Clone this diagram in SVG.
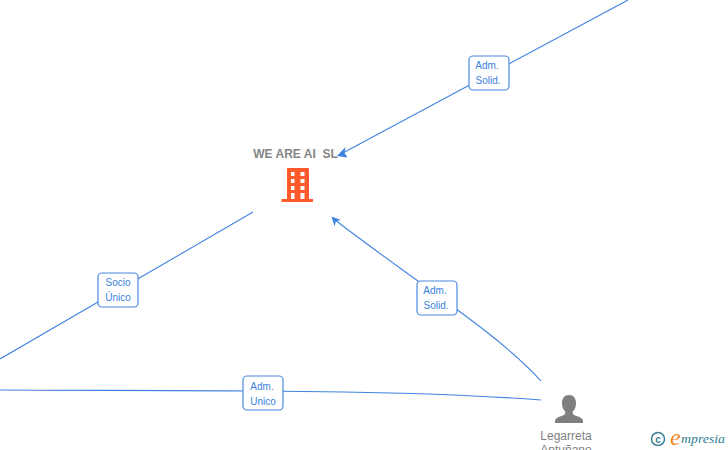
<svg xmlns="http://www.w3.org/2000/svg" width="728" height="450" viewBox="0 0 728 450">
<style>
text{font-family:"Liberation Sans",Arial,sans-serif}
.c{fill:none;stroke:#3f82e0;stroke-width:1.1}
.h{fill:#3f82e0}
.b{fill:#fff;stroke:#4a8ae2;stroke-width:1.2}
.l{font-size:10px;fill:#3a7fdc;text-anchor:middle}
.n{font-size:12px;fill:#7f7f7f;text-anchor:middle}
.s{font-family:"Liberation Serif",serif;font-style:italic}
</style>
<g id="connectors">
<path class="c" d="M628 0 340 154.500"/>
<path class="h" d="M337 156l8.500-9-1 6 3 4.500z"/>
<path class="c" d="M253 212 0 359"/>
<path class="c" d="M541 381C500 335 420 285 335 220"/>
<path class="h" d="M331.500 216.500l9.500 3.500-5 1.200-1.500 5z"/>
<path class="c" d="M541 400C400 389 200 391 0 390"/>
</g>
<g id="label-adm-solid-1"><rect class="b" x="469" y="56" width="40" height="34" rx="4"/><text class="l" x="487" y="69">Adm.</text><text class="l" x="488" y="84">Solid.</text></g>
<g id="label-adm-solid-2"><rect class="b" x="417" y="281" width="40" height="34" rx="4"/><text class="l" x="435" y="294">Adm.</text><text class="l" x="436" y="309">Solid.</text></g>
<g id="label-socio-unico"><rect class="b" x="98" y="273" width="40" height="34" rx="4"/><text class="l" x="118" y="286">Socio</text><text class="l" x="118" y="301">Único</text></g>
<g id="label-adm-unico"><rect class="b" x="243" y="376" width="40" height="34" rx="4"/><text class="l" x="262" y="390">Adm.</text><text class="l" x="263" y="405">Unico</text></g>
<g id="node-we-are-ai">
<text x="295.500" y="158" font-size="12" font-weight="bold" fill="#858585" text-anchor="middle" xml:space="preserve">WE ARE AI  SL</text>
<path fill="#ff5a2b" fill-rule="evenodd" d="M288 168h20a1 1 0 0 1 1 1v30h4v3h-31.500v-3H287v-30a1 1 0 0 1 1-1ZM291 172v4h3.500v-4ZM300.500 172v4h4v-4ZM291 179v4h3.500v-4ZM300.500 179v4h4v-4ZM291 186v4h3.500v-4ZM300.500 186v4h4v-4ZM291 193v6h3.500v-6ZM300.500 193v6h4v-6Z"/>
</g>
<g id="node-legarreta">
<path fill="#7f7f7f" d="M569 395c4.500 0 7 3.500 7 8 0 3.500-1 6.500-3.500 9 0 2 1 3 4 4 4 1.500 6.500 2.500 6.500 5v2h-28v-2c0-2.500 2.500-3.500 6.500-5 3-1 4-2 4-4-2.500-2.500-3.500-5.500-3.500-9 0-4.500 2.500-8 7-8z"/>
<text class="n" x="566" y="440">Legarreta</text>
<text class="n" x="566" y="454">Antuñano</text>
</g>
<g id="logo">
<circle cx="658" cy="439" r="6.500" fill="none" stroke="#3e7f95" stroke-width="1.500"/>
<text x="658" y="442.500" font-size="10" font-weight="bold" fill="#3e7f95" text-anchor="middle">c</text>
<text class="s" x="670" y="445" font-size="24" fill="#f08a1d">e</text>
<text class="s" x="681" y="443" font-size="13" fill="#2f7f93" textLength="44" lengthAdjust="spacingAndGlyphs">mpresia</text>
</g>
</svg>
